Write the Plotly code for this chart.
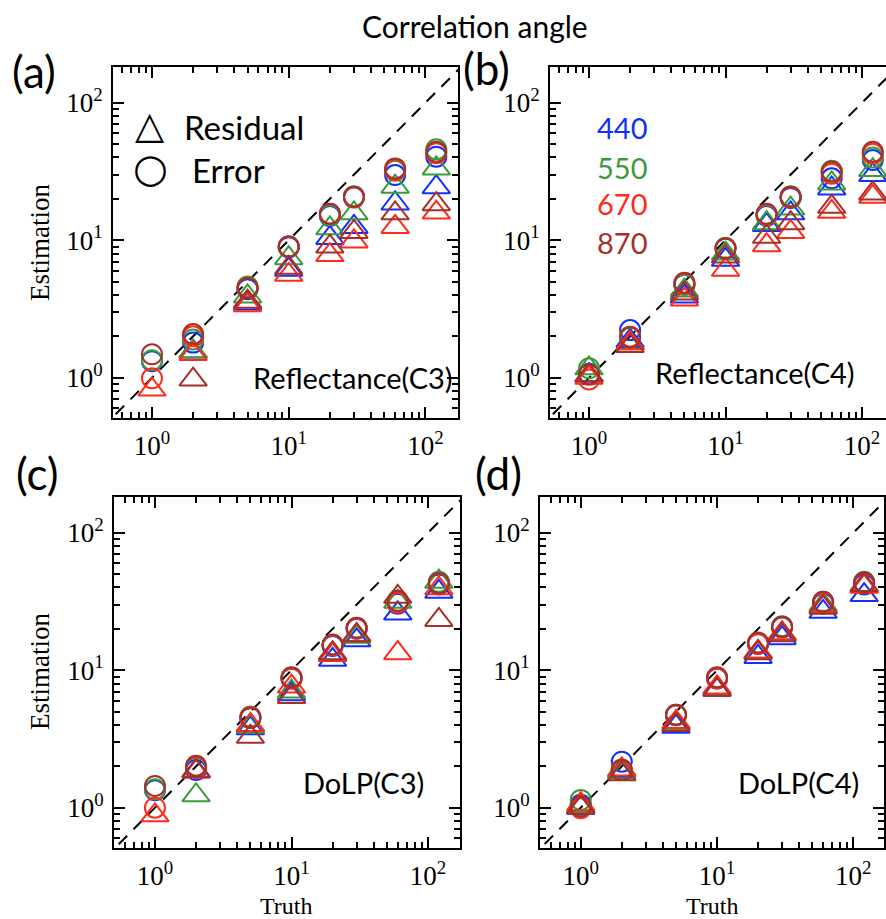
import plotly.graph_objects as go

W, H = 886, 919

TRUTH = [1, 2, 5, 10, 20, 30, 60, 120]
BANDS = ["440", "550", "670", "870"]
COLORS = ["#1030ff", "#3c9a3c", "#ff2a1a", "#a5302a"]

# Panel (a) Reflectance(C3)
A_ERR = {
    "440": [1.32, 1.80, 4.4, 8.9, 15.0, 20.5, 29.8, 40.5],
    "550": [1.34, 1.90, 4.6, 9.0, 15.2, 20.9, 32.0, 45.8],
    "670": [0.99, 2.0, 4.5, 9.0, 15.6, 20.5, 32.5, 43.0],
    "870": [1.48, 2.08, 4.5, 9.0, 15.6, 20.7, 33.3, 44.0],
}
A_RES = {
    "440": [None, 1.55, 3.47, 6.1, 10.4, 12.5, 18.5, 24.3],
    "550": [None, 1.55, 3.9, 7.4, 12.2, 15.7, 24.5, 33.3],
    "670": [0.82, 1.49, 3.37, 5.6, 7.8, 9.8, 12.5, 15.9],
    "870": [None, 0.97, 3.57, 6.3, 9.0, 11.5, 15.7, 18.3],
}
# Panel (b) Reflectance(C4)
B_ERR = {
    "440": [1.07, 2.22, 4.75, 8.7, 15.0, 20.3, 28.2, 38.3],
    "550": [1.17, 1.95, 4.75, 8.8, 15.2, 20.9, 32.0, 40.0],
    "670": [0.97, 1.99, 4.85, 8.7, 15.4, 20.5, 30.5, 42.5],
    "870": [1.05, 1.97, 4.9, 8.7, 15.6, 20.7, 31.5, 44.0],
}
B_RES = {
    "440": [1.04, 1.85, 3.9, 7.2, 12.9, 15.7, 23.8, 29.8],
    "550": [1.17, 1.78, 4.3, 8.0, 13.3, 17.0, 25.9, 32.4],
    "670": [1.0, 1.78, 3.7, 6.1, 9.2, 11.5, 16.1, 20.7],
    "870": [1.04, 1.70, 4.1, 7.6, 10.6, 13.3, 17.5, 21.9],
}
# Panel (c) DoLP(C3)
C_ERR = {
    "440": [1.34, 1.88, 4.5, 8.7, 15.0, 20.0, 30.5, 42.0],
    "550": [1.36, 1.95, 4.6, 8.8, 15.2, 20.3, 31.5, 44.0],
    "670": [1.0, 1.99, 4.55, 8.7, 15.2, 20.1, 31.0, 42.8],
    "870": [1.44, 2.02, 4.5, 8.9, 15.4, 20.4, 32.0, 43.0],
}
C_RES = {
    "440": [None, 1.85, 3.78, 6.7, 11.9, 16.5, 25.9, 37.2],
    "550": [None, 1.23, 3.9, 7.0, 12.9, 17.5, 31.5, 44.1],
    "670": [0.88, 1.83, 4.0, 7.6, 12.9, 18.0, 13.3, 39.4],
    "870": [None, 1.85, 3.28, 6.4, 13.3, 18.0, 34.2, 23.2],
}
# Panel (d) DoLP(C4)
D_ERR = {
    "440": [1.05, 2.16, 4.7, 8.7, 15.5, 20.5, 30.5, 42.0],
    "550": [1.14, 1.9, 4.75, 8.8, 15.7, 20.9, 31.5, 44.0],
    "670": [0.99, 1.88, 4.7, 8.7, 15.5, 20.5, 31.0, 43.0],
    "870": [1.02, 1.88, 4.75, 8.9, 15.9, 20.7, 31.5, 43.5],
}
D_RES = {
    "440": [1.0, 1.85, 3.88, 7.2, 12.5, 17.1, 26.6, 35.2],
    "550": [1.03, 1.8, 4.1, 7.4, 13.6, 18.5, 30.0, 41.6],
    "670": [1.06, 1.9, 4.2, 7.5, 13.6, 18.5, 29.0, 40.5],
    "870": [1.0, 1.75, 4.0, 7.2, 13.3, 18.0, 28.5, 41.6],
}

PANEL_NAMES = ["Reflectance(C3)", "Reflectance(C4)", "DoLP(C3)", "DoLP(C4)"]
PANEL_LETTERS = ["(a)", "(b)", "(c)", "(d)"]
MAJOR = [1, 10, 100]
MAJOR_TEXT = ["10<sup>0</sup>", "10<sup>1</sup>", "10<sup>2</sup>"]
MINOR = [0.6, 0.7, 0.8, 0.9, 2, 3, 4, 5, 6, 7, 8, 9,
         20, 30, 40, 50, 60, 70, 80, 90, 200]
DIAG = [0.2, 400]

SERIF = "Liberation Serif"
SANS = "Lato"


def px_x(p):
    return p / W


def px_y(p):
    return 1 - p / H


# pixel boxes (left, right, top, bottom) and log ranges
BOXES = [
    (113, 458, 67, 418, [-0.285, 2.238], [-0.293, 2.26]),
    (550, 886, 67, 418, [-0.286, 2.176], [-0.293, 2.26]),
    (114, 460, 497, 848, [-0.30, 2.234], [-0.293, 2.26]),
    (540, 884, 497, 848, [-0.299, 2.225], [-0.293, 2.26]),
]

fig = go.Figure()
panels = [(A_ERR, A_RES), (B_ERR, B_RES), (C_ERR, C_RES), (D_ERR, D_RES)]


def axis_common(rng, mirror="allticks"):
    return dict(
        type="log", range=rng, showline=True, linecolor="black", linewidth=2,
        mirror=mirror, ticks="inside", ticklen=11, tickwidth=1.5,
        tickcolor="black", tickmode="array", tickvals=MAJOR,
        ticktext=MAJOR_TEXT,
        minor=dict(tickmode="array", tickvals=MINOR, ticks="inside",
                   ticklen=6, tickwidth=1.5, tickcolor="black",
                   showgrid=False),
        showgrid=False, zeroline=False,
        tickfont=dict(family=SERIF, size=27, color="black"),
        ticklabelstandoff=3,
    )


for i, (err, res) in enumerate(panels):
    n = "" if i == 0 else str(i + 1)
    xa, ya = "x" + n, "y" + n
    l, r, t, b, xr, yr = BOXES[i]
    xax = axis_common(xr)
    xax.update(domain=[px_x(l), px_x(r)], anchor=ya)
    yax = axis_common(yr, mirror=False if i == 1 else "allticks")
    yax.update(domain=[px_y(b), px_y(t)], anchor=xa)
    fig.update_layout(**{"xaxis" + n: xax, "yaxis" + n: yax})

    fig.add_trace(go.Scatter(
        x=DIAG, y=DIAG, mode="lines", xaxis=xa, yaxis=ya, showlegend=False,
        line=dict(color="black", width=2, dash="12px,9px"), hoverinfo="skip"))
    for band, col in zip(BANDS, COLORS):
        fig.add_trace(go.Scatter(
            x=TRUTH, y=err[band], mode="markers", xaxis=xa, yaxis=ya,
            showlegend=False,
            marker=dict(symbol="circle-open", size=20, color=col,
                        line=dict(width=2, color=col))))
        fig.add_trace(go.Scatter(
            x=TRUTH, y=res[band], mode="markers", xaxis=xa, yaxis=ya,
            showlegend=False,
            marker=dict(symbol="triangle-up-open", size=24, color=col,
                        line=dict(width=2, color=col))))

ann = []


def add_text(text, x, y, size, family=SANS, color="black", xanchor="center",
             angle=0):
    ann.append(dict(text=text, x=px_x(x), y=px_y(y), xref="paper",
                    yref="paper", showarrow=False, xanchor=xanchor,
                    yanchor="middle", textangle=angle,
                    font=dict(family=family, size=size, color=color)))


add_text("Correlation angle", 475, 26, 30)
letter_pos = [(34, 71), (486, 68), (37, 473), (499, 473)]
for (lx, ly), letter in zip(letter_pos, PANEL_LETTERS):
    add_text(letter, lx, ly, 44)

name_pos = [(353, 377), (755, 373), (363, 782), (798, 782)]
for (nx, ny), name in zip(name_pos, PANEL_NAMES):
    add_text(name, nx, ny, 29)

# legend of panel (a)
add_text("△", 150, 125, 38, family="DejaVu Sans")
add_text("○", 150, 168, 40, family="DejaVu Sans")
add_text("Residual", 182, 127, 33, xanchor="left")
add_text("Error", 190, 170, 33, xanchor="left")

# wavelength legend of panel (b)
for k, (band, col) in enumerate(zip(BANDS, COLORS)):
    add_text(band, 595, [127, 167, 204, 242][k], 29, color=col,
             xanchor="left")

# axis titles
add_text("Estimation", 40, 243, 27, family=SERIF, angle=-90)
add_text("Estimation", 40, 672, 27, family=SERIF, angle=-90)
add_text("Truth", 286, 906, 24, family=SERIF)
add_text("Truth", 712, 906, 24, family=SERIF)

fig.update_layout(
    width=W, height=H, margin=dict(l=0, r=0, t=0, b=0),
    paper_bgcolor="white", plot_bgcolor="white", annotations=ann,
    showlegend=False,
)

fig.write_html("out.html")
